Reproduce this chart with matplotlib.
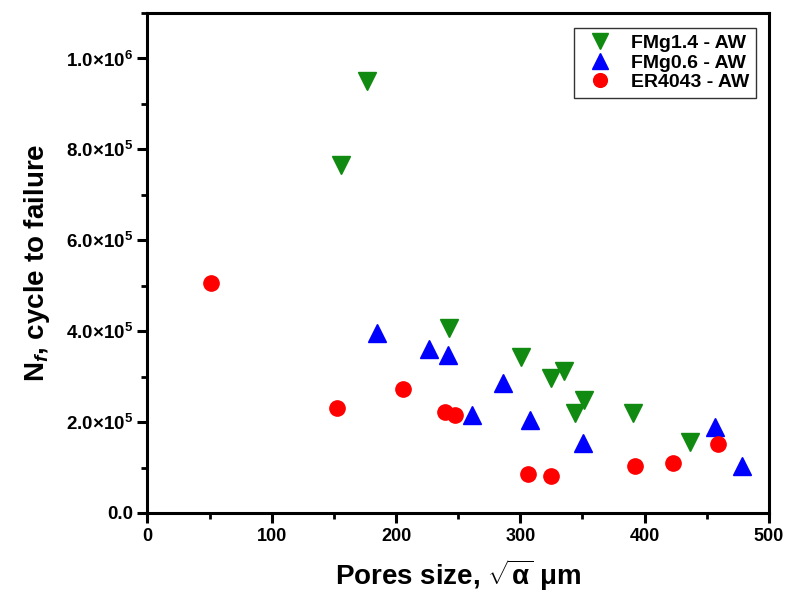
import matplotlib
matplotlib.use('Agg')
import matplotlib.pyplot as plt
import numpy as np
from matplotlib.ticker import MultipleLocator, FixedLocator

plt.rcParams['font.family'] = ['Liberation Sans', 'DejaVu Sans']
plt.rcParams['font.weight'] = 'bold'
plt.rcParams['mathtext.fontset'] = 'custom'
plt.rcParams['mathtext.rm'] = 'Liberation Sans:bold'
plt.rcParams['mathtext.it'] = 'Liberation Sans:italic:bold'
plt.rcParams['mathtext.bf'] = 'Liberation Sans:bold'

# FMg1.4 - AW
fmg14_x = [155.5, 176.7, 242.7, 300.7, 324.6, 335.3, 344.2, 351.4, 390.6, 436.8]
fmg14_y = [7.65e5, 9.50e5, 4.08e5, 3.44e5, 2.97e5, 3.12e5, 2.21e5, 2.49e5, 2.21e5, 1.57e5]

# FMg0.6 - AW
fmg06_x = [185.0, 226.6, 241.7, 261.5, 285.7, 307.4, 350.1, 456.9, 478.4]
fmg06_y = [3.95e5, 3.61e5, 3.48e5, 2.16e5, 2.86e5, 2.05e5, 1.54e5, 1.89e5, 1.04e5]

# ER4043 - AW
er_x = [50.9, 152.3, 205.5, 239.5, 247.6, 305.8, 324.6, 392.0, 422.5, 458.8]
er_y = [5.05e5, 2.31e5, 2.73e5, 2.23e5, 2.16e5, 0.86e5, 0.82e5, 1.04e5, 1.10e5, 1.52e5]

yticks = [0, 2e5, 4e5, 6e5, 8e5, 1e6]
ytick_labels = ['0.0', r'$2.0{\times}10^{5}$', r'$4.0{\times}10^{5}$',
                r'$6.0{\times}10^{5}$', r'$8.0{\times}10^{5}$', r'$1.0{\times}10^{6}$']

fig = plt.figure(figsize=(7.87, 6.03), dpi=100)
ax = fig.add_axes([0.1874, 0.1493, 0.7896, 0.8291])

ax.plot(fmg14_x, fmg14_y, 'v', color='#108a10', markersize=13, linestyle='none', label='FMg1.4 - AW')
ax.plot(fmg06_x, fmg06_y, '^', color='#0000ff', markersize=13, linestyle='none', label='FMg0.6 - AW')
ax.plot(er_x, er_y, 'o', color='#ff0000', markersize=11, linestyle='none', label='ER4043 - AW')

ax.set_xlim(0, 500)
ax.set_ylim(0, 1.1e6)
ax.xaxis.set_major_locator(MultipleLocator(100))
ax.xaxis.set_minor_locator(MultipleLocator(50))
ax.yaxis.set_major_locator(FixedLocator(yticks))
ax.yaxis.set_minor_locator(MultipleLocator(1e5))
ax.set_yticklabels(ytick_labels)

for s in ax.spines.values():
    s.set_linewidth(2.2)
ax.tick_params(which='major', direction='out', length=7, width=2.2, labelsize=13)
ax.tick_params(which='minor', direction='out', length=4, width=2)
ax.tick_params(axis='y', labelsize=13.5)
for lab in ax.get_xticklabels() + ax.get_yticklabels():
    lab.set_fontweight('bold')

ax.set_xlabel(r'Pores size, $\sqrt{\mathrm{\alpha}}$ μm', fontsize=20, fontweight='bold', labelpad=9)
ax.set_ylabel(r'$\mathrm{N}_{\mathit{f}}$, cycle to failure', fontsize=20, fontweight='bold', labelpad=10)

leg = ax.legend(loc='upper right', fontsize=14, frameon=True, fancybox=False,
                edgecolor='black', borderpad=0.35, labelspacing=0.1, handletextpad=0.6,
                markerscale=0.9, bbox_to_anchor=(0.995, 0.99))
leg.get_frame().set_linewidth(1.0)
for t in leg.get_texts():
    t.set_fontweight('bold')

fig.savefig('out.png', dpi=100)
